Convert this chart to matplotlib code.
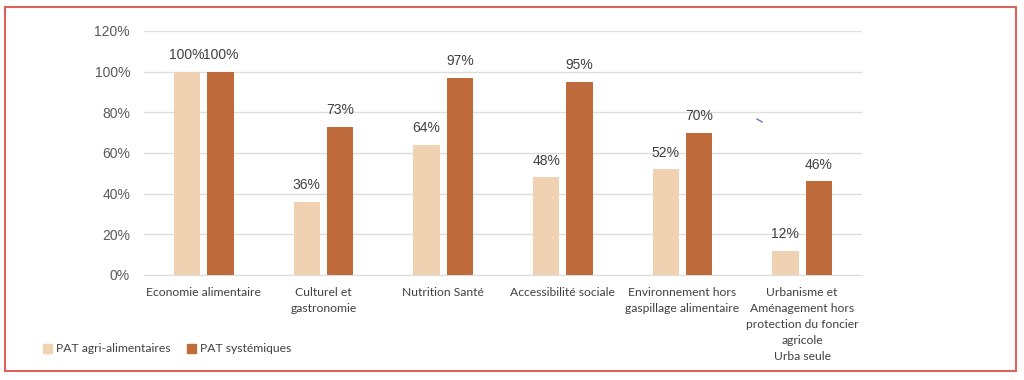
import matplotlib
matplotlib.use("Agg")
import matplotlib.pyplot as plt
from matplotlib.patches import Rectangle, Patch
from matplotlib.lines import Line2D
import numpy as np

categories = ["Economie alimentaire", "Culturel et\ngastronomie", "Nutrition Santé",
              "Accessibilité sociale", "Environnement hors\ngaspillage alimentaire",
              "Urbanisme et\nAménagement hors\nprotection du foncier\nagricole\nUrba seule"]
agri = [100, 36, 64, 48, 52, 12]
syst = [100, 73, 97, 95, 70, 46]
series_names = ["PAT agri-alimentaires", "PAT systémiques"]
yticks = [0, 20, 40, 60, 80, 100, 120]

c_light = "#F0D1B2"
c_dark = "#BE6A3B"
txt = "#404040"

fig = plt.figure(figsize=(10.24, 3.8), dpi=100)
fig.patch.set_facecolor("white")
ax = fig.add_axes([144/1024, 1-275/380, (862-144)/1024, (275-31)/380])

x = np.arange(len(categories))
w = 0.22
off = 0.14
b1 = ax.bar(x - off, agri, w, color=c_light, zorder=3)
b2 = ax.bar(x + off, syst, w, color=c_dark, zorder=3)
for bars, vals in ((b1, agri), (b2, syst)):
    for r, v in zip(bars, vals):
        ax.annotate(f"{v}%", (r.get_x() + r.get_width()/2, v), xytext=(0, 7),
                    textcoords="offset points", ha="center", va="bottom",
                    fontsize=10, color=txt, family="Liberation Sans")

ax.set_xlim(-0.5, len(categories) - 0.5)
ax.set_ylim(0, 120)
ax.set_yticks(yticks)
ax.set_yticklabels([f"{t}%" for t in yticks], fontsize=10, color="#595959", family="Liberation Sans")
ax.set_xticks(x)
ax.set_xticklabels(categories, fontsize=8.7, color=txt, family="Lato", linespacing=1.55)
ax.tick_params(axis="both", length=0)
ax.tick_params(axis="x", pad=9)
ax.tick_params(axis="y", pad=10)
ax.grid(axis="y", color="#DDDDDD", linewidth=1, zorder=0)
for s in ["top", "right", "left"]:
    ax.spines[s].set_visible(False)
ax.spines["bottom"].set_color("#DDDDDD")
ax.set_facecolor("white")

handles = [Patch(color=c_light), Patch(color=c_dark)]
fig.legend(handles, series_names, loc="center left", bbox_to_anchor=(32/1024, 1-349/380),
           ncol=2, frameon=False, handlelength=0.75, handleheight=0.75, handletextpad=0.3,
           columnspacing=1.4, prop={"family": "Lato", "size": 8.7}, labelcolor=txt)

fig.patches.append(Rectangle((5/1024, 1-371/380), (1016-5)/1024, (371-7)/380,
                             transform=fig.transFigure, fill=False,
                             edgecolor="#D9645C", linewidth=1.5))
# small stray pen mark present in the source image
fig.lines.append(Line2D([757/1024, 762/1024], [1-119/380, 1-122/380],
                        transform=fig.transFigure, color="#5B7DB8", linewidth=1))

fig.savefig("out.png", dpi=100)
